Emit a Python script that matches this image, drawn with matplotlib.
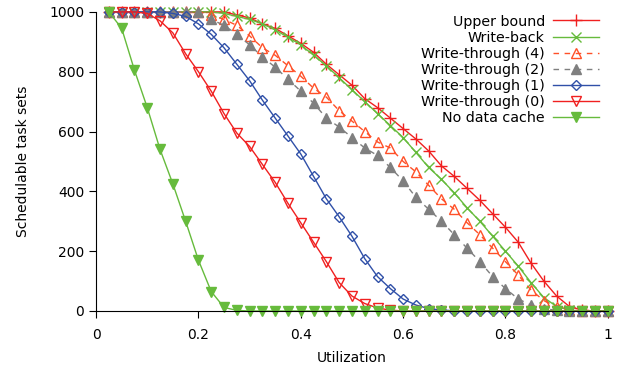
import matplotlib
matplotlib.use("Agg")
import matplotlib.pyplot as plt
import numpy as np

# utilization steps 0.025 .. 1.0
util = np.arange(1, 41) * 0.025

upper_bound = [1000, 1000, 1000, 1000, 1000, 1000, 1000, 1000, 1000, 1000,
               990, 980, 960, 945, 920, 895, 865, 825, 790, 755,
               710, 680, 645, 610, 575, 535, 485, 450, 410, 370,
               325, 280, 230, 160, 100, 50, 15, 3, 0, 0]
write_back = [1000, 1000, 1000, 1000, 1000, 1000, 1000, 1000, 1000, 995,
              985, 975, 960, 940, 915, 890, 855, 820, 780, 740,
              700, 660, 620, 580, 530, 480, 440, 395, 345, 300,
              250, 200, 150, 95, 45, 15, 3, 0, 0, 0]
wt4 = [1000, 1000, 1000, 1000, 1000, 1000, 1000, 1000, 990, 975,
       955, 920, 880, 855, 820, 785, 745, 715, 670, 635,
       600, 565, 545, 500, 465, 420, 375, 340, 295, 255,
       210, 165, 120, 70, 35, 12, 3, 0, 0, 0]
wt2 = [1000, 1000, 1000, 1000, 1000, 1000, 1000, 1000, 975, 955,
       925, 890, 850, 815, 775, 735, 695, 645, 615, 580,
       545, 520, 480, 435, 380, 340, 300, 255, 210, 165,
       115, 75, 40, 20, 8, 2, 0, 0, 0, 0]
wt1 = [1000, 1000, 1000, 1000, 1000, 995, 985, 960, 925, 880,
       825, 770, 705, 645, 585, 525, 450, 375, 315, 250,
       175, 115, 75, 40, 20, 8, 3, 1, 0, 0,
       0, 0, 0, 0, 0, 0, 0, 0, 0, 0]
wt0 = [1000, 1000, 1000, 995, 970, 930, 860, 800, 735, 660,
       595, 550, 490, 430, 360, 295, 230, 165, 95, 50,
       25, 10, 3, 0, 0, 0, 0, 0, 0, 0,
       0, 0, 0, 0, 0, 0, 0, 0, 0, 0]
no_cache = [1000, 945, 805, 680, 540, 425, 300, 170, 65, 12,
            2, 0, 0, 0, 0, 0, 0, 0, 0, 0,
            0, 0, 0, 0, 0, 0, 0, 0, 0, 0,
            0, 0, 0, 0, 0, 0, 0, 0, 0, 0]

red = "#f02020"
green = "#66bb3c"
orange = "#ff5028"
gray = "#7f7f7f"
blue = "#3050a8"

plt.rcParams["font.family"] = "DejaVu Sans"
plt.rcParams["font.size"] = 10

fig = plt.figure(figsize=(6.24, 3.72), dpi=100)
ax = fig.add_axes([0.154, 0.164, 0.82, 0.804])

kw = dict(clip_on=False, linewidth=1.0, markeredgewidth=1.0)
ax.plot(util, upper_bound, color=red, marker="+", markersize=8, label="Upper bound", **kw)
ax.plot(util, write_back, color=green, marker="x", markersize=6.5, label="Write-back", **kw)
ax.plot(util, wt4, color=orange, marker="^", mfc="none", markersize=6.5,
        linestyle=(0, (4, 4)), label="Write-through (4)", **kw)
ax.plot(util, wt2, color=gray, marker="^", markersize=6.5,
        linestyle=(0, (4, 4)), label="Write-through (2)", **kw)
ax.plot(util, wt1, color=blue, marker="D", mfc="none", markersize=5,
        label="Write-through (1)", **kw)
ax.plot(util, wt0, color=red, marker="v", mfc="none", markersize=6.5,
        label="Write-through (0)", **kw)
ax.plot(util, no_cache, color=green, marker="v", markersize=6.5,
        label="No data cache", **kw)

ax.set_xlim(0, 1)
ax.set_ylim(0, 1000)
ax.set_xticks([0, 0.2, 0.4, 0.6, 0.8, 1])
ax.set_xticklabels(["0", "0.2", "0.4", "0.6", "0.8", "1"])
ax.set_yticks([0, 200, 400, 600, 800, 1000])
ax.spines["top"].set_visible(False)
ax.spines["right"].set_visible(False)
ax.tick_params(direction="out", length=5, width=0.8)
ax.tick_params(axis="x", pad=7.5)
ax.set_xlabel("Utilization", labelpad=6)
ax.set_ylabel("Schedulable task sets", labelpad=14)

ax.legend(loc="upper right", bbox_to_anchor=(1.0, 1.02), frameon=False, markerfirst=False,
          handlelength=3.2, labelspacing=0.15, borderaxespad=0.2, handletextpad=0.6,
          fontsize=10.3)

fig.savefig("out.png", dpi=100)
